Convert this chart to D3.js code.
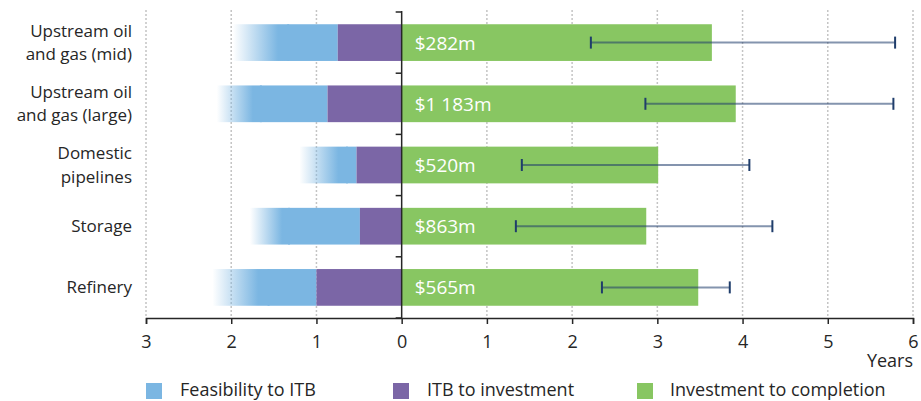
<!DOCTYPE html>
<html>

<head>
  <meta charset="utf-8">
  <script src="https://d3js.org/d3.v7.min.js"></script>
  <style>
    body {
      margin: 0;
      background: #fff;
    }

    * {
      font-family: 'Open Sans', sans-serif;
    }

    .grid line {
      stroke: #c4c4c4;
      stroke-width: 1.5;
      stroke-dasharray: 2, 2;
    }
  </style>
</head>

<body>
  <div class="chart"></div>
  <script type="text/javascript">
    // years before / after final investment decision
    const categories = ['mid', 'large', 'pipelines', 'storage', 'refinery'];
    const categoryLines = [
      ['Upstream oil', 'and gas (mid)'],
      ['Upstream oil', 'and gas (large)'],
      ['Domestic', 'pipelines'],
      ['Storage'],
      ['Refinery']
    ];
    const itbToInvestment = [0.75, 0.87, 0.53, 0.49, 1.0];
    const feasibilitySolid = [1.32, 1.64, 0.63, 1.31, 1.55];
    const feasibilityFade = [1.98, 2.17, 1.20, 1.78, 2.22];
    const investmentToCompletion = [3.64, 3.92, 3.01, 2.87, 3.48];
    const rangeLow = [2.22, 2.86, 1.41, 1.34, 2.35];
    const rangeHigh = [5.79, 5.77, 4.08, 4.35, 3.85];
    const costLabels = ['$282m', '$1 183m', '$520m', '$863m', '$565m'];
    const xTicks = [-3, -2, -1, 0, 1, 2, 3, 4, 5, 6];
    const legendItems = ['Feasibility to ITB', 'ITB to investment', 'Investment to completion'];

    const blue = '#7bb6e2',
      purple = '#7b66a6',
      green = '#88c662',
      ink = '#262626';

    const width = 921,
      height = 401;

    const svg = d3.select('.chart')
      .append('svg')
      .attr('width', width)
      .attr('height', height);

    const x = d3.scaleLinear()
      .domain([-3, 6])
      .range([146, 913]);

    const y = d3.scaleBand()
      .domain(categories)
      .range([12, 318])
      .paddingInner(0.4)
      .paddingOuter(0.2);

    const defs = svg.append('defs');
    const grad = defs.append('linearGradient')
      .attr('id', 'fade')
      .attr('x1', '0%')
      .attr('x2', '100%');
    grad.append('stop').attr('offset', '0%').attr('stop-color', blue).attr('stop-opacity', 0);
    grad.append('stop').attr('offset', '80%').attr('stop-color', blue).attr('stop-opacity', 1);
    grad.append('stop').attr('offset', '100%').attr('stop-color', blue).attr('stop-opacity', 1);

    // gridlines
    svg.append('g')
      .attr('class', 'grid')
      .selectAll('line')
      .data(xTicks.filter(d => d !== 0))
      .enter()
      .append('line')
      .attr('x1', d => x(d))
      .attr('x2', d => x(d))
      .attr('y1', 10)
      .attr('y2', 318);

    const rows = svg.append('g')
      .selectAll('g')
      .data(categories)
      .enter()
      .append('g');

    // feasibility: solid part (tucked 2px under the fade to hide the seam) then fading part
    rows.append('rect')
      .attr('x', (d, i) => x(-feasibilitySolid[i]) - 2)
      .attr('y', d => y(d))
      .attr('width', (d, i) => x(-itbToInvestment[i]) - x(-feasibilitySolid[i]) + 2)
      .attr('height', y.bandwidth())
      .attr('fill', blue);

    rows.append('rect')
      .attr('x', (d, i) => x(-feasibilityFade[i]))
      .attr('y', d => y(d))
      .attr('width', (d, i) => x(-feasibilitySolid[i]) - x(-feasibilityFade[i]))
      .attr('height', y.bandwidth())
      .attr('fill', 'url(#fade)');

    rows.append('rect')
      .attr('x', (d, i) => x(-itbToInvestment[i]))
      .attr('y', d => y(d))
      .attr('width', (d, i) => x(0) - x(-itbToInvestment[i]))
      .attr('height', y.bandwidth())
      .attr('fill', purple);

    rows.append('rect')
      .attr('x', x(0))
      .attr('y', d => y(d))
      .attr('width', (d, i) => x(investmentToCompletion[i]) - x(0))
      .attr('height', y.bandwidth())
      .attr('fill', green);

    rows.append('text')
      .attr('x', x(0) + 13)
      .attr('y', d => y(d) + y.bandwidth() / 2 + 7)
      .attr('fill', '#fff')
      .style('font-size', '19px')
      .text((d, i) => costLabels[i]);

    // range whiskers
    const mid = d => y(d) + y.bandwidth() / 2;
    rows.append('line')
      .attr('x1', (d, i) => x(rangeLow[i]))
      .attr('x2', (d, i) => x(rangeHigh[i]))
      .attr('y1', mid)
      .attr('y2', mid)
      .attr('stroke', 'rgba(31, 61, 107, 0.55)')
      .attr('stroke-width', 2);

    [rangeLow, rangeHigh].forEach(vals => {
      rows.append('line')
        .attr('x1', (d, i) => x(vals[i]))
        .attr('x2', (d, i) => x(vals[i]))
        .attr('y1', d => mid(d) - 6)
        .attr('y2', d => mid(d) + 6)
        .attr('stroke', '#1f3d6b')
        .attr('stroke-width', 2);
    });

    // category labels
    rows.append('text')
      .attr('text-anchor', 'end')
      .attr('fill', ink)
      .style('font-size', '17px')
      .each(function (d, i) {
        const lines = categoryLines[i];
        const t = d3.select(this);
        lines.forEach((l, j) => {
          t.append('tspan')
            .attr('x', 132)
            .attr('y', mid(d) + 6 + (j - (lines.length - 1) / 2) * 23.2)
            .text(l);
        });
      });

    // x axis
    const xAxis = svg.append('g')
      .attr('transform', 'translate(0,318)')
      .call(d3.axisBottom(x).tickValues(xTicks).tickFormat(d => Math.abs(d)).tickSizeOuter(0).tickSize(6));
    xAxis.select('.domain').attr('stroke', ink).attr('stroke-width', 1.5);
    xAxis.selectAll('.tick line').attr('stroke', ink).attr('stroke-width', 1.5);
    xAxis.selectAll('.tick text')
      .attr('y', 17)
      .attr('dy', '0.71em')
      .attr('fill', ink)
      .style('font-size', '18px')
      .style('font-family', "'Open Sans', sans-serif");

    svg.append('text')
      .attr('x', 913)
      .attr('y', 367)
      .attr('text-anchor', 'end')
      .attr('fill', ink)
      .style('font-size', '18px')
      .text('Years');

    // zero axis with band ticks
    const yAxis = svg.append('g')
      .attr('transform', 'translate(' + x(0) + ',0)');
    yAxis.append('line')
      .attr('y1', 11)
      .attr('y2', 318)
      .attr('stroke', ink)
      .attr('stroke-width', 1.5);
    yAxis.selectAll('.bt')
      .data(d3.range(categories.length + 1))
      .enter()
      .append('line')
      .attr('class', 'bt')
      .attr('x1', -6)
      .attr('x2', 0)
      .attr('y1', i => 12 + i * y.step())
      .attr('y2', i => 12 + i * y.step())
      .attr('stroke', ink)
      .attr('stroke-width', 1.5);

    // legend
    const legendX = [146, 393, 637];
    const legend = svg.append('g')
      .selectAll('g')
      .data(legendItems)
      .enter()
      .append('g')
      .attr('transform', (d, i) => 'translate(' + legendX[i] + ',383)');
    legend.append('rect')
      .attr('width', 16)
      .attr('height', 16)
      .attr('fill', (d, i) => [blue, purple, green][i]);
    legend.append('text')
      .attr('x', (d, i) => [34, 34, 33][i])
      .attr('y', 13)
      .attr('fill', ink)
      .style('font-size', '18px')
      .text(d => d);
  </script>
</body>

</html>
